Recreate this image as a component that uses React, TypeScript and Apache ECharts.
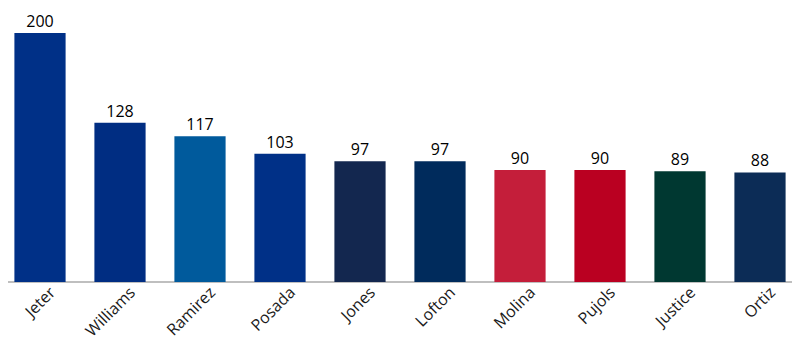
import React, { useEffect, useRef } from "react";
import * as echarts from "echarts";

const players = ["Jeter", "Williams", "Ramirez", "Posada", "Jones", "Lofton", "Molina", "Pujols", "Justice", "Ortiz"];
const values = [200, 128, 117, 103, 97, 97, 90, 90, 89, 88];
const colors = ["#003087", "#002D82", "#005A9C", "#003087", "#13274F", "#002B5C", "#C41E3A", "#BA0021", "#003831", "#0C2C56"];

export default function App() {
  const ref = useRef<HTMLDivElement>(null);
  useEffect(() => {
    const chart = echarts.init(ref.current!, null, { renderer: "svg" });
    chart.setOption({
      animation: false,
      textStyle: { fontFamily: "Open Sans" },
      grid: { left: 0, right: 0, top: 33, bottom: 76, containLabel: false },
      xAxis: {
        type: "category",
        data: players,
        axisLine: { lineStyle: { color: "#aaaaaa", width: 1.5 } },
        axisTick: { alignWithLabel: true, length: 8, lineStyle: { color: "#aaaaaa", width: 1.5 } },
        axisLabel: {
          rotate: 45,
          interval: 0,
          fontSize: 16,
          color: "#1a1a1a",
          fontFamily: "Open Sans",
          margin: 8,
          verticalAlign: "top",
          padding: [0, -9, 0, 0],
        },
      },
      yAxis: { type: "value", min: 0, max: 200, show: false, splitLine: { show: false } },
      series: [
        {
          type: "bar",
          data: values.map((v, i) => ({ value: v, itemStyle: { color: colors[i] } })),
          barWidth: "64%",
          label: { show: true, position: "top", fontSize: 16, color: "#000", fontFamily: "Open Sans", distance: 4 },
        },
      ],
    });
    return () => chart.dispose();
  }, []);
  return <div ref={ref} style={{ width: 800, height: 358, margin: -8 }} />;
}
